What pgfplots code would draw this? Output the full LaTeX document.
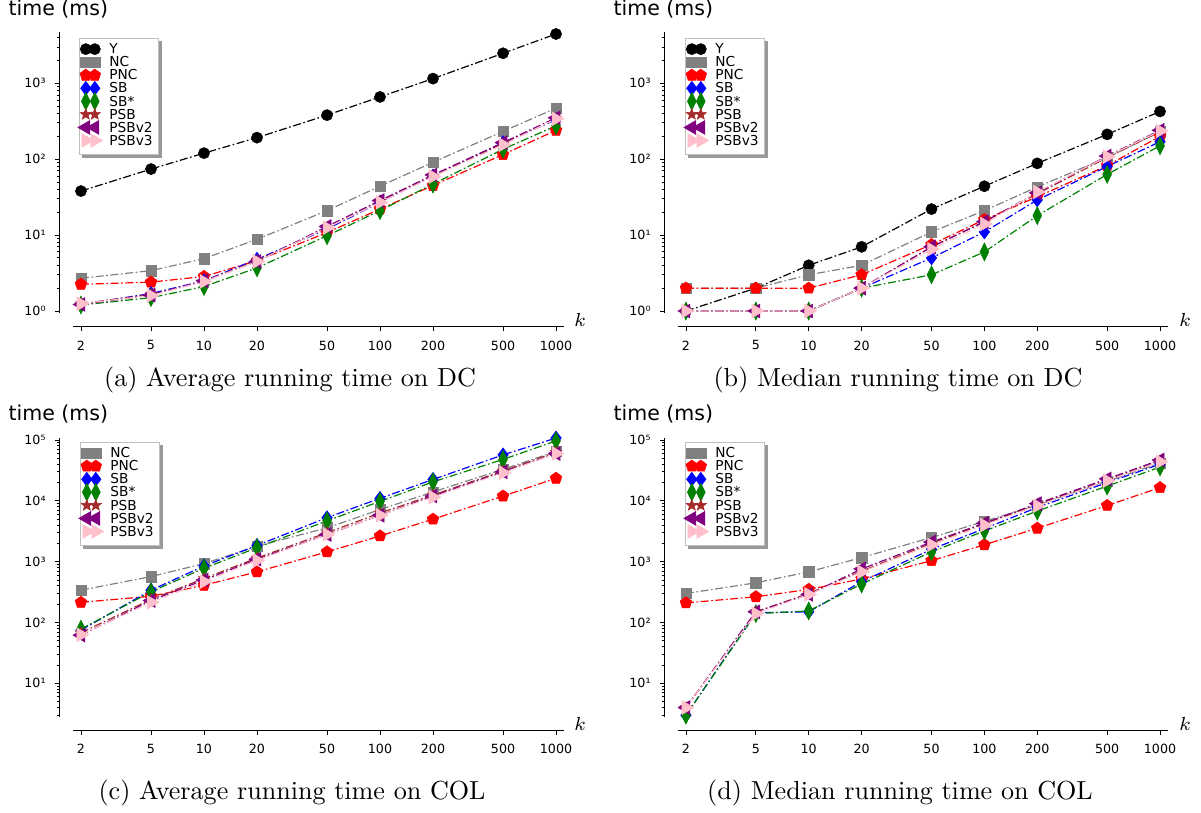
\RequirePackage{fix-cm}
\documentclass[border=0pt]{standalone}
\usepackage{fontspec}
\usepackage{pgfplots}
\pgfplotsset{compat=1.18}
\usepackage{pgfplotstable}
\usetikzlibrary{plotmarks,shadows}
\newfontfamily\dejavu{DejaVu Sans}
\newdimen\px \px=0.38168bp
\makeatletter
\newcommand\nopreact{\let\tikz@preactions\pgfutil@empty}
\makeatother

\definecolor{mgray}{HTML}{808080}
\definecolor{mbrown}{HTML}{A52A2A}
\definecolor{mgreen}{HTML}{008000}
\definecolor{mpurple}{HTML}{800080}
\definecolor{mpink}{HTML}{FFC0CB}

\pgfdeclareplotmark{fstar}{%
 \pgfpathmoveto{\pgfpointpolar{90}{\pgfplotmarksize}}%
 \pgfpathlineto{\pgfpointpolar{126}{0.42\pgfplotmarksize}}%
 \pgfpathlineto{\pgfpointpolar{162}{\pgfplotmarksize}}%
 \pgfpathlineto{\pgfpointpolar{198}{0.42\pgfplotmarksize}}%
 \pgfpathlineto{\pgfpointpolar{234}{\pgfplotmarksize}}%
 \pgfpathlineto{\pgfpointpolar{270}{0.42\pgfplotmarksize}}%
 \pgfpathlineto{\pgfpointpolar{306}{\pgfplotmarksize}}%
 \pgfpathlineto{\pgfpointpolar{342}{0.42\pgfplotmarksize}}%
 \pgfpathlineto{\pgfpointpolar{18}{\pgfplotmarksize}}%
 \pgfpathlineto{\pgfpointpolar{54}{0.42\pgfplotmarksize}}%
 \pgfpathclose
 \pgfusepathqfillstroke}

\pgfplotstableread{
k Y NC PNC SB SBs PSB Pv2 Pv3
2 38 2.7 2.25 1.22 1.2 1.25 1.22 1.25
5 74 3.4 2.4 1.7 1.5 1.65 1.62 1.6
10 120 4.9 2.85 2.5 2.1 2.45 2.5 2.45
20 192 8.8 4.6 4.8 3.7 4.6 4.5 4.5
50 380 21 10.8 12 9.8 12.5 13 12.5
100 660 44 22 27 21 28 28.5 27
200 1150 91 45 60 47 60 62 59
500 2480 232 115 165 135 160 165 155
1000 4450 470 240 330 275 340 350 340
}\tabA

\pgfplotstableread{
k Y NC PNC SB SBs PSB Pv2 Pv3
2 1 2 2 1 1 1 1 1
5 2 2 2 1 1 1 1 1
10 4 3 2 1 1 1 1 1
20 7 4 3 2 2 2 2 2
50 22 11 7.5 5 3 7 7 6.5
100 44 21 16 11 6 15 15 14
200 88 43 32 29 18 35 36 37
500 212 105 82 80 63 105 110 108
1000 425 230 200 170 150 230 240 235
}\tabB

\pgfplotstableread{
k NC PNC SB SBs PSB Pv2 Pv3
2 340 215 75 78 68 62 63
5 570 270 340 320 240 230 215
10 930 410 850 780 530 500 470
20 1800 680 1850 1700 1150 1100 1050
50 3600 1450 5300 4700 3000 2800 2800
100 7200 2650 11000 9800 6300 5800 5800
200 14000 5000 22500 20500 12500 12000 11500
500 33000 12000 57000 48000 31000 30000 29000
1000 65000 23500 108000 97000 63000 60000 60000
}\tabC

\pgfplotstableread{
k NC PNC SB SBs PSB Pv2 Pv3
2 300 210 3 3 4 4 4
5 450 265 145 140 150 150 140
10 680 350 150 155 300 290 290
20 1170 520 470 430 700 760 680
50 2500 1040 1600 1450 2000 2100 1900
100 4600 1900 3500 3200 4200 4300 4000
200 8500 3550 7800 6800 8800 9000 8300
500 21000 8400 20000 17500 22000 23000 21500
1000 42000 16500 40000 36000 45000 47000 44000
}\tabD

\tikzset{
 ser/.style n args={2}{color=#1, line width=1.2\px,
   dash pattern=on 8\px off 2.6\px on 1.6\px off 2.6\px,
   mark options={solid, fill=#1, draw=#1, line width=0.5\px, #2}},
 sY/.style={ser={black}{}, mark=*, mark size=5.6\px},
 sNC/.style={ser={mgray}{}, mark=square*, mark size=5.2\px},
 sPNC/.style={ser={red}{}, mark=pentagon*, mark size=6.2\px},
 sSB/.style={ser={blue}{}, mark=diamond*, mark size=7\px},
 sSBs/.style={ser={mgreen}{xscale=0.66}, mark=diamond*, mark size=9\px},
 sPSB/.style={ser={mbrown}{}, mark=fstar, mark size=6\px},
 sPv2/.style={ser={mpurple}{rotate=90}, mark=triangle*, mark size=8\px},
 sPv3/.style={ser={mpink}{rotate=-90}, mark=triangle*, mark size=8\px},
}

\pgfplotsset{
  scale only axis,
  xmin=1.802, xmax=1110,
  axis x line=bottom, axis y line=left,
  axis line style={-, line width=1.2\px, black},
  axis x line shift=13.4\px, axis y line shift=13.5\px,
  tick align=outside,
  major tick length=4.7\px, minor tick length=2.8\px,
  every tick/.style={black, line width=0.9\px},
  xtick={2,5,10,20,50,100,200,500,1000},
  xticklabels={2,5,10,20,50,100,200,500,1000},
  xminorticks=false,
  tick label style={font=\dejavu\fontsize{4.85}{5.5}\selectfont},
  clip=false,
  legend cell align=left,
  legend image code/.code={\nopreact
    \draw[only marks, overlay] plot coordinates {(0\px,1.8\px) (9\px,1.8\px)};
    \node[inner sep=0pt, minimum width=24\px, anchor=west] at (-1\px,0pt) {};},
  legend style={at={(0,1)}, anchor=north west, draw=black!25, line width=0.8\px,
    fill=white, inner xsep=6\px, inner ysep=6\px, row sep=0pt,
    font=\dejavu\fontsize{5.25}{5.3}\selectfont,
    nodes={inner sep=0pt, text height=3.6pt, text depth=1.4pt},
    drop shadow={shadow xshift=3\px, shadow yshift=-3\px, fill=black!40, opacity=1}},
}

\begin{document}
\begin{tikzpicture}
\useasboundingbox (0,0) rectangle (1201\px,-812\px);

% (a)
\begin{loglogaxis}[at={(73\px,-31.7\px)}, anchor=north west, width=491\px, height=281.6\px,
  ymin=0.933, ymax=4770,
  ytick={1,10,100,1000}, yticklabels={10⁰,10¹,10²,10³},
  minor ytick={2,3,4,5,6,7,8,9,20,30,40,50,60,70,80,90,200,300,400,500,600,700,800,900,2000,3000,4000},
  legend style={xshift=6\px, yshift=-6.3\px}]
\addplot[sY] table[x=k,y=Y]{\tabA};
\addplot[sNC] table[x=k,y=NC]{\tabA};
\addplot[sPNC] table[x=k,y=PNC]{\tabA};
\addplot[sSB] table[x=k,y=SB]{\tabA};
\addplot[sSBs] table[x=k,y=SBs]{\tabA};
\addplot[sPSB] table[x=k,y=PSB]{\tabA};
\addplot[sPv2] table[x=k,y=Pv2]{\tabA};
\addplot[sPv3] table[x=k,y=Pv3]{\tabA};
\legend{Y,NC,PNC,SB,SB*,PSB,PSBv2,PSBv3}
\end{loglogaxis}

% (b)
\begin{loglogaxis}[at={(678\px,-31.7\px)}, anchor=north west, width=490\px, height=281.6\px,
  ymin=0.933, ymax=4770,
  ytick={1,10,100,1000}, yticklabels={10⁰,10¹,10²,10³},
  minor ytick={2,3,4,5,6,7,8,9,20,30,40,50,60,70,80,90,200,300,400,500,600,700,800,900,2000,3000,4000},
  legend style={xshift=7\px, yshift=-6.3\px}]
\addplot[sY] table[x=k,y=Y]{\tabB};
\addplot[sNC] table[x=k,y=NC]{\tabB};
\addplot[sPNC] table[x=k,y=PNC]{\tabB};
\addplot[sSB] table[x=k,y=SB]{\tabB};
\addplot[sSBs] table[x=k,y=SBs]{\tabB};
\addplot[sPSB] table[x=k,y=PSB]{\tabB};
\addplot[sPv2] table[x=k,y=Pv2]{\tabB};
\addplot[sPv3] table[x=k,y=Pv3]{\tabB};
\legend{Y,NC,PNC,SB,SB*,PSB,PSBv2,PSBv3}
\end{loglogaxis}

% (c)
\begin{loglogaxis}[at={(73\px,-438\px)}, anchor=north west, width=491\px, height=278.7\px,
  ymin=2.83, ymax=108000,
  ytick={10,100,1000,10000,100000}, yticklabels={10¹,10²,10³,10⁴,10⁵},
  minor ytick={3,4,5,6,7,8,9,20,30,40,50,60,70,80,90,200,300,400,500,600,700,800,900,2000,3000,4000,5000,6000,7000,8000,9000,20000,30000,40000,50000,60000,70000,80000,90000},
  legend style={xshift=7\px, yshift=-4\px}]
\addplot[sNC] table[x=k,y=NC]{\tabC};
\addplot[sPNC] table[x=k,y=PNC]{\tabC};
\addplot[sSB] table[x=k,y=SB]{\tabC};
\addplot[sSBs] table[x=k,y=SBs]{\tabC};
\addplot[sPSB] table[x=k,y=PSB]{\tabC};
\addplot[sPv2] table[x=k,y=Pv2]{\tabC};
\addplot[sPv3] table[x=k,y=Pv3]{\tabC};
\legend{NC,PNC,SB,SB*,PSB,PSBv2,PSBv3}
\end{loglogaxis}

% (d)
\begin{loglogaxis}[at={(678\px,-438\px)}, anchor=north west, width=490\px, height=278.7\px,
  ymin=2.83, ymax=108000,
  ytick={10,100,1000,10000,100000}, yticklabels={10¹,10²,10³,10⁴,10⁵},
  minor ytick={3,4,5,6,7,8,9,20,30,40,50,60,70,80,90,200,300,400,500,600,700,800,900,2000,3000,4000,5000,6000,7000,8000,9000,20000,30000,40000,50000,60000,70000,80000,90000},
  legend style={xshift=7\px, yshift=-4\px}]
\addplot[sNC] table[x=k,y=NC]{\tabD};
\addplot[sPNC] table[x=k,y=PNC]{\tabD};
\addplot[sSB] table[x=k,y=SB]{\tabD};
\addplot[sSBs] table[x=k,y=SBs]{\tabD};
\addplot[sPSB] table[x=k,y=PSB]{\tabD};
\addplot[sPv2] table[x=k,y=Pv2]{\tabD};
\addplot[sPv3] table[x=k,y=Pv3]{\tabD};
\legend{NC,PNC,SB,SB*,PSB,PSBv2,PSBv3}
\end{loglogaxis}

% y labels
\foreach \xx/\yy in {8/15.5, 613/15.5, 8/420, 613/420}
  \node[anchor=base west, inner sep=0pt, font=\dejavu\fontsize{7.86}{9}\selectfont] at (\xx\px,-\yy\px) {time (ms)};
% k labels
\foreach \xx/\yy in {580/326, 1185/326, 580/730, 1185/730}
  \node[anchor=base, inner sep=0pt, font=\fontsize{7.25}{8}\selectfont] at (\xx\px,-\yy\px) {$k$};
% captions
\node[anchor=base, inner sep=0pt, font=\fontsize{10}{12}\selectfont] at (290\px,-386\px) {(a) Average running time on DC};
\node[anchor=base, inner sep=0pt, font=\fontsize{10}{12}\selectfont] at (898\px,-386\px) {(b) Median running time on DC};
\node[anchor=base, inner sep=0pt, font=\fontsize{10}{12}\selectfont] at (292\px,-799\px) {(c) Average running time on COL};
\node[anchor=base, inner sep=0pt, font=\fontsize{10}{12}\selectfont] at (900\px,-799\px) {(d) Median running time on COL};
\end{tikzpicture}
\end{document}
